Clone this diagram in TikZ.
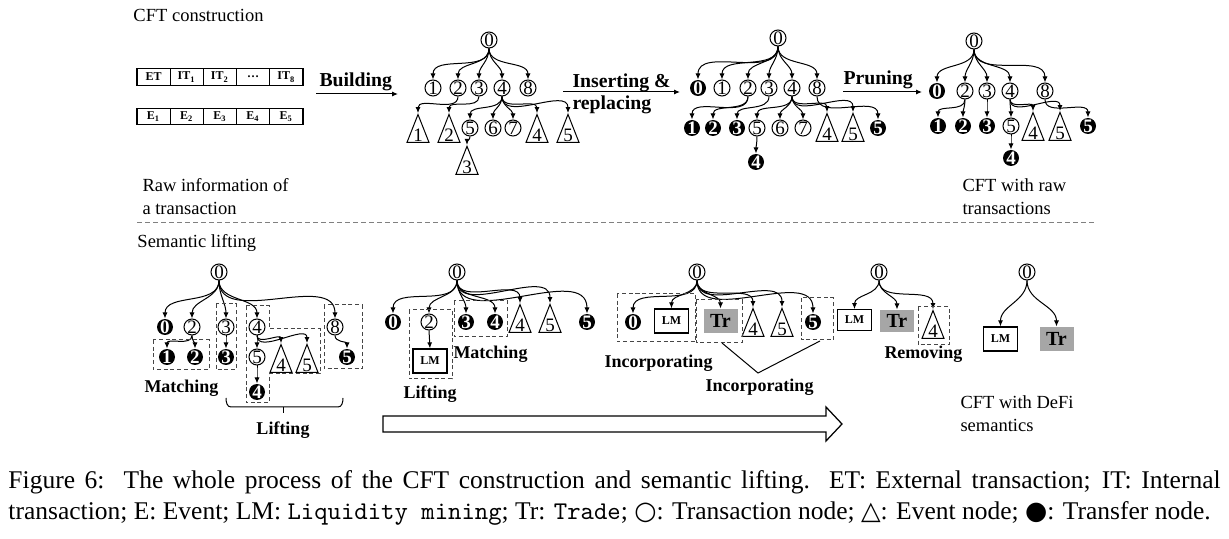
\documentclass[tikz,border=0pt]{standalone}
\usepackage{fontspec}
\setmainfont{Liberation Serif}
\newfontfamily\symfont{DejaVu Sans}
\usetikzlibrary{arrows.meta,shapes.geometric}
\definecolor{Cg}{RGB}{166,166,166}
\definecolor{Cd}{RGB}{70,70,70}

\tikzset{
  tx/.style={circle,draw,line width=0.4pt,inner sep=0pt,minimum size=6.4pt,
    font=\fontsize{7.6}{8}\selectfont},
  tf/.style={circle,fill=black,text=white,inner sep=0pt,minimum size=6.4pt,
    font=\fontsize{7.6}{8}\selectfont\bfseries},
  ev/.style={draw,line width=0.4pt,isosceles triangle,shape border rotate=90,
    isosceles triangle apex angle=43,inner sep=0.3pt,anchor=south,
    font=\fontsize{7.6}{8}\selectfont},
  lmbox/.style={draw,line width=0.5pt,fill=white,minimum width=13.6pt,
    minimum height=9.6pt,inner sep=0pt,font=\fontsize{4.8}{5}\selectfont\bfseries},
  trbox/.style={fill=Cg,minimum width=13.6pt,minimum height=9.6pt,inner sep=0pt,
    font=\fontsize{8}{9}\selectfont\bfseries},
  cell/.style={draw,line width=0.5pt,minimum width=13.28pt,minimum height=6.6pt,
    inner sep=0pt,font=\fontsize{4.8}{5}\selectfont\bfseries},
  edge/.style={-{Latex[length=2.4pt,width=2pt]},line width=0.4pt},
  lbl/.style={font=\fontsize{7.4}{9.2}\selectfont,align=left,inner sep=0pt},
  op/.style={font=\fontsize{7.9}{8.8}\selectfont\bfseries,align=left,inner sep=0pt},
  opb/.style={font=\fontsize{7.2}{8}\selectfont\bfseries,inner sep=0pt},
  grp/.style={draw=Cd,line width=0.4pt,dash pattern=on 1.6pt off 1.1pt},
}

\begin{document}
\begin{tikzpicture}[x=0.4pt,y=-0.4pt]
  \useasboundingbox (0,0) rectangle (1229,539);

  % ---- CFT construction ----
  \node[lbl,anchor=west] (title1) at (133,15) {CFT construction};
  \node[cell] (it0) at (153.6,77) {ET};
  \node[cell] (it1) at (186.8,77) {IT\textsubscript{1}};
  \node[cell] (it2) at (220.0,77) {IT\textsubscript{2}};
  \node[cell] (it3) at (253.2,77) {\ldots};
  \node[cell] (it4) at (286.4,77) {IT\textsubscript{8}};
  \foreach \i in {1,2,3,4,5}
    \node[cell] (ev\i) at ({153.6+33.2*(\i-1)},116.5) {E\textsubscript{\i}};
  \node[lbl,anchor=north west] (raw) at (142,178) {Raw information of\\a transaction};

  \node[op,anchor=west] (build) at (319,82) {Building};
  \coordinate (bs) at (316,94);
  \coordinate (be) at (398,94);
  \draw[edge] (bs) -- (be);

  % tree after building
  \node[tx] (p0) at (489,40) {0};
  \foreach \n/\x in {1/433,2/458,3/479,4/502,8/528}
    \node[tx] (p\n) at (\x,88) {\n};
  \foreach \n/\x in {5/470,6/493,7/513}
    \node[tx] (p\n) at (\x,128) {\n};
  \foreach \n/\x in {1/418,2/449,4/537,5/568}
    \node[ev] (pe\n) at (\x,143) {\n};
  \node[ev] (pe3) at (467,175) {3};
  \foreach \c in {p1,p2,p3,p4,p8}
    \draw[edge] (p0.south) to[out=-90,in=90] (\c.north);
  \foreach \a/\c in {p2/pe1,p3/pe2,p4/p5,p4/p6,p4/p7,p4/pe4,p4/pe5,p5/pe3}
    \draw[edge] (\a.south) to[out=-90,in=90] (\c.north);

  \node[op,anchor=west] (ins) at (572,83) {Inserting \&};
  \node[op,anchor=west] (rep) at (572,105) {replacing};
  \coordinate (is) at (563,92);
  \coordinate (ie) at (680,92);
  \draw[edge] (is) -- (ie);

  % tree after inserting
  \node[tx] (q0) at (778,38) {0};
  \node[tf] (qt0) at (698,88) {0};
  \foreach \n/\x in {1/722,2/748,3/769,4/792,8/817}
    \node[tx] (q\n) at (\x,88) {\n};
  \foreach \n/\x in {1/692,2/713,3/737,5/878}
    \node[tf] (qt\n) at (\x,128) {\n};
  \foreach \n/\x in {5/757,6/780,7/803}
    \node[tx] (q\n) at (\x,128) {\n};
  \foreach \n/\x in {4/827,5/853}
    \node[ev] (qe\n) at (\x,142) {\n};
  \node[tf] (qt4) at (756,162) {4};
  \foreach \c in {qt0,q1,q2,q3,q4,q8}
    \draw[edge] (q0.south) to[out=-90,in=90] (\c.north);
  \foreach \a/\c in {q2/qt1,q2/qt2,q3/qt3,q4/q5,q4/q6,q4/q7,q4/qe4,q4/qe5,q8/qt5,q5/qt4}
    \draw[edge] (\a.south) to[out=-90,in=90] (\c.north);

  \node[op,anchor=west] (prune) at (843,80) {Pruning};
  \coordinate (ps) at (843,92);
  \coordinate (pe) at (922,92);
  \draw[edge] (ps) -- (pe);

  % tree after pruning
  \node[tx] (s0) at (974,41) {0};
  \node[tf] (st0) at (937,91) {0};
  \foreach \n/\x in {2/965,3/987,4/1010,8/1045}
    \node[tx] (s\n) at (\x,91) {\n};
  \foreach \n/\x in {1/938,2/963,3/987,5/1088}
    \node[tf] (st\n) at (\x,126) {\n};
  \node[tx] (s5) at (1011,126) {5};
  \foreach \n/\x in {4/1033,5/1060}
    \node[ev] (se\n) at (\x,141) {\n};
  \node[tf] (st4) at (1011,158) {4};
  \foreach \c in {st0,s2,s3,s4,s8}
    \draw[edge] (s0.south) to[out=-90,in=90] (\c.north);
  \foreach \a/\c in {s2/st1,s2/st2,s3/st3,s4/s5,s4/se4,s4/se5,s8/st5,s5/st4}
    \draw[edge] (\a.south) to[out=-90,in=90] (\c.north);
  \node[lbl,anchor=north west] (rawcft) at (962,178) {CFT with raw\\transactions};

  \draw[gray,line width=0.4pt,dash pattern=on 2pt off 1.2pt] (137,223) -- (1097,223);

  % ---- Semantic lifting ----
  \node[lbl,anchor=west] (title2) at (137,243) {Semantic lifting};

  % step A: matching and lifting
  \node[tx] (a0) at (219,272) {0};
  \node[tf] (at0) at (165,327) {0};
  \foreach \n/\x in {2/192,3/226,4/257,8/335}
    \node[tx] (a\n) at (\x,327) {\n};
  \foreach \n/\x in {1/167,2/195,3/226,5/347}
    \node[tf] (at\n) at (\x,357) {\n};
  \node[tx] (a5) at (257,357) {5};
  \foreach \n/\x in {4/281,5/307}
    \node[ev] (ae\n) at (\x,373) {\n};
  \node[tf] (at4) at (257,392) {4};
  \foreach \c in {at0,a2,a3,a4,a8}
    \draw[edge] (a0.south) to[out=-90,in=90] (\c.north);
  \foreach \a/\c in {a2/at1,a2/at2,a3/at3,a4/a5,a4/ae4,a4/ae5,a8/at5,a5/at4}
    \draw[edge] (\a.south) to[out=-90,in=90] (\c.north);
  \draw[grp] (153,340) rectangle (209,370);
  \draw[grp] (216,304) rectangle (236,370);
  \draw[grp] (246,306) -- (269,306) -- (269,329) -- (320,329) -- (320,374)
    -- (269,374) -- (269,403) -- (246,403) -- cycle;
  \draw[grp] (324,305) rectangle (362,369);
  \node[opb,anchor=west] (matA) at (144,388) {Matching};
  \draw[line width=0.4pt] (226,398) to[out=-90,in=180] (231,407) -- (338,407)
    to[out=0,in=-90] (343,398);
  \draw[line width=0.4pt] (283,407) -- (283,413);
  \node[opb] (liftA) at (283,430) {Lifting};

  % step B
  \node[tx] (b0) at (457,272) {0};
  \foreach \n/\x in {0/393,3/466,4/495,5/587}
    \node[tf] (bt\n) at (\x,322) {\n};
  \node[tx] (b2) at (429,322) {2};
  \foreach \n/\x in {4/520,5/550}
    \node[ev] (be\n) at (\x,333) {\n};
  \node[lmbox] (bl) at (430,361) {LM};
  \foreach \c in {bt0,b2,bt3,bt4,be4,be5,bt5}
    \draw[edge] (b0.south) to[out=-90,in=90] (\c.north);
  \draw[edge] (b2.south) -- (bl.north);
  \draw[grp] (409,310) rectangle (452,379);
  \draw[grp] (454,301) rectangle (507,337);
  \node[opb,anchor=west] (matB) at (453,354) {Matching};
  \node[opb,anchor=west] (liftB) at (403,394) {Lifting};

  % step C
  \node[tx] (c0) at (697,272) {0};
  \node[tf] (ct0) at (633,322) {0};
  \node[lmbox] (cl) at (671.5,321) {LM};
  \node[trbox] (cr) at (720.5,321) {Tr};
  \foreach \n/\x in {4/753,5/782}
    \node[ev] (ce\n) at (\x,337) {\n};
  \node[tf] (ct5) at (813,322) {5};
  \foreach \c in {ct0,cl,cr,ce4,ce5,ct5}
    \draw[edge] (c0.south) to[out=-90,in=90] (\c.north);
  \draw[grp] (617,294) rectangle (695,342);
  \draw[grp] (696,300) rectangle (742,343);
  \draw[grp] (801,298) rectangle (833,340);
  \node[opb,anchor=west] (incA) at (604,363) {Incorporating};
  \coordinate (ka) at (722,343);
  \coordinate (kb) at (758,373);
  \coordinate (kc) at (820,341);
  \draw[line width=0.4pt] (ka) -- (kb) -- (kc);
  \node[opb,anchor=west] (incB) at (705,387) {Incorporating};

  % step D
  \node[tx] (d0) at (879,272) {0};
  \node[lmbox,minimum height=8.2pt] (dl) at (854.5,320) {LM};
  \node[trbox,minimum height=8.8pt] (dr) at (897,321) {Tr};
  \node[ev] (de4) at (933,339) {4};
  \foreach \c in {dl,dr,de4}
    \draw[edge] (d0.south) to[out=-90,in=90] (\c.north);
  \draw[grp] (918,307) rectangle (949,345);
  \node[opb,anchor=west] (rem) at (884,354) {Removing};

  % result
  \node[tx] (e0) at (1027,272) {0};
  \node[lmbox] (el) at (1000.5,339) {LM};
  \node[trbox] (er) at (1056.5,339) {Tr};
  \foreach \c in {el,er}
    \draw[edge] (e0.south) to[out=-90,in=90] (\c.north);
  \node[lbl,anchor=north west] (deficft) at (960,395) {CFT with DeFi\\semantics};

  % process arrow
  \draw[line width=0.5pt] (383,416) -- (826,416) -- (826,407) -- (842,424)
    -- (826,441) -- (826,432) -- (383,432) -- cycle;

  % caption
  \node[anchor=north west,text width=484.8pt,align=justify,inner sep=0pt,
    font=\fontsize{10.2}{12.4}\selectfont] (cap) at (8,470)
    {Figure 6:\ \ The whole process of the CFT construction and semantic lifting.\ \ ET: External transaction; IT: Internal\linebreak
     transaction; E: Event; LM: \texttt{Liquidity mining}; Tr: \texttt{Trade}; {\symfont ○}: Transaction node; {\symfont △}: Event node; {\symfont ●}: Transfer node.};
\end{tikzpicture}
\end{document}
